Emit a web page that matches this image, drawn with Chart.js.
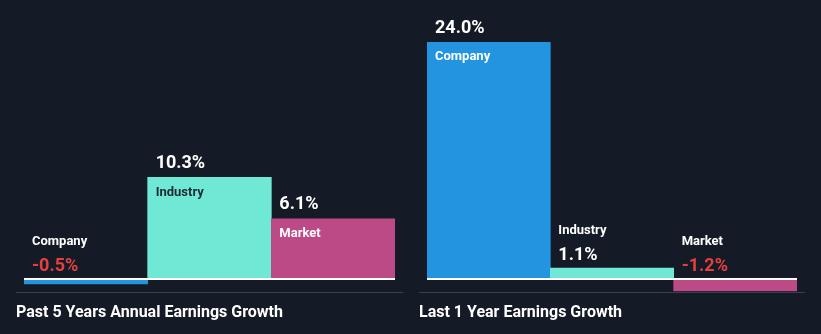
<!DOCTYPE html>
<html>
<head>
<meta charset="utf-8">
<script src="https://cdn.jsdelivr.net/npm/chart.js@4/dist/chart.umd.min.js"></script>
<style>
  html,body{margin:0;padding:0;background:#151b26;}
  #wrap{position:relative;width:821px;height:334px;background:#151b26;}
  .pane{position:absolute;top:0;height:334px;}
</style>
</head>
<body>
<div id="wrap">
  <div class="pane" style="left:0;width:410px"><canvas id="c1" width="410" height="334"></canvas></div>
  <div class="pane" style="left:410px;width:411px"><canvas id="c2" width="411" height="334"></canvas></div>
</div>
<script>
const categories = ["Company", "Industry", "Market"];
const past5Values = [-0.5, 10.3, 6.1];
const last1Values = [24.0, 1.1, -1.2];
const titles = ["Past 5 Years Annual Earnings Growth", "Last 1 Year Earnings Growth"];
const barColors = ["#2394e0", "#6fe8d5", "#bb4a86"];
const nameColors = ["#ffffff", "#1e2a33", "#ffffff"];

const FONT = "Roboto, 'Open Sans', sans-serif";

function labelPlugin(title) {
  return {
    id: 'labels',
    afterDatasetsDraw(chart) {
      const ctx = chart.ctx;
      const y = chart.scales.y;
      const zeroY = y.getPixelForValue(0);
      const meta = chart.getDatasetMeta(0);
      const ca = chart.chartArea;
      ctx.save();
      // baseline
      ctx.fillStyle = '#ffffff';
      ctx.fillRect(ca.left, Math.round(zeroY) - 1, ca.right - ca.left, 2);
      ctx.textBaseline = 'middle';
      ctx.textAlign = 'left';
      meta.data.forEach((bar, i) => {
        const v = chart.data.datasets[0].data[i];
        const props = bar.getProps(['x', 'y', 'width'], true);
        const left = props.x - props.width / 2;
        const tx = left + 8;
        const top = Math.min(props.y, zeroY);
        const h = zeroY - props.y;
        const valTxt = v.toFixed(1) + '%';
        const valColor = v < 0 ? '#e5403f' : '#ffffff';
        if (h > 30) {
          ctx.font = "bold 18px " + FONT;
          ctx.fillStyle = valColor;
          ctx.fillText(valTxt, tx, top - 14);
          ctx.font = "bold 13px " + FONT;
          ctx.fillStyle = nameColors[i];
          ctx.fillText(categories[i], tx, top + 15);
        } else {
          ctx.font = "bold 18px " + FONT;
          ctx.fillStyle = valColor;
          ctx.fillText(valTxt, tx, top - 12.5);
          ctx.font = "bold 13px " + FONT;
          ctx.fillStyle = '#ffffff';
          ctx.fillText(categories[i], tx, top - 37);
        }
      });
      // separator
      ctx.fillStyle = '#3b4049';
      const sepL = ca.left - 8, sepR = ca.right + 8;
      ctx.fillRect(sepL, 292, sepR - sepL, 1);
      // title
      ctx.font = "bold 16px " + FONT;
      ctx.fillStyle = '#ffffff';
      ctx.fillText(title, sepL, 313);
      ctx.restore();
    }
  };
}

function makeChart(id, values, title, padL, padR) {
  return new Chart(document.getElementById(id), {
    type: 'bar',
    data: {
      labels: categories,
      datasets: [{
        data: values,
        backgroundColor: barColors,
        borderWidth: 0,
        barPercentage: 1.0,
        categoryPercentage: 1.0
      }]
    },
    options: {
      responsive: false,
      animation: false,
      events: [],
      layout: { padding: { left: padL, right: padR, top: 42, bottom: 42.2 } },
      plugins: { legend: { display: false }, tooltip: { enabled: false } },
      scales: {
        x: { display: false },
        y: { display: false, min: -1.3, max: 24 }
      }
    },
    plugins: [labelPlugin(title)]
  });
}

makeChart('c1', past5Values, titles[0], 24, 15);
makeChart('c2', last1Values, titles[1], 17, 24);
</script>
</body>
</html>
